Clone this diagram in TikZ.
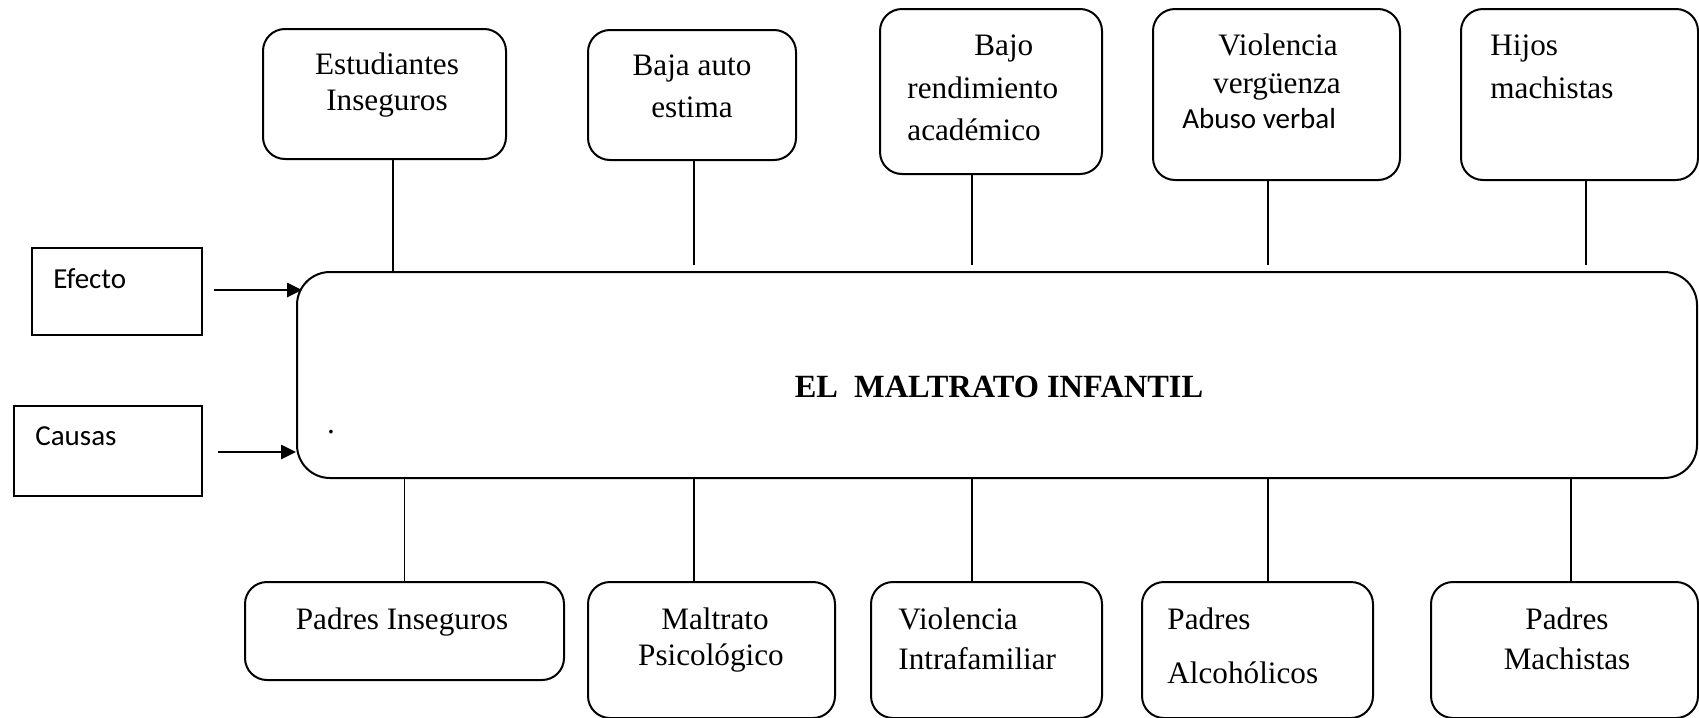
\documentclass[tikz,border=0pt]{standalone}
\usepackage{fontspec}
\setmainfont{Liberation Serif}
\newfontfamily\calib{Carlito}
\usetikzlibrary{fit,arrows.meta}
\begin{document}
\begin{tikzpicture}[x=0.5pt,y=-0.5pt,
  rbox/.style={draw, line width=1pt, inner sep=0pt, rounded corners=11pt},
  mainbox/.style={draw, line width=1pt, inner sep=0pt, rounded corners=16.5pt},
  sqbox/.style={draw, line width=1pt, inner sep=0pt},
  conn/.style={line width=0.9pt},
  arr/.style={line width=1.3pt, -{Triangle[length=7.5pt,width=7pt]}},
  txt/.style={inner sep=0pt, anchor=base, font=\fontsize{15.6pt}{18pt}\selectfont},
  txtl/.style={txt, anchor=base west},
  stxt/.style={inner sep=0pt, anchor=base west, font=\calib\fontsize{14.5pt}{17pt}\selectfont}]
\useasboundingbox (0,0) rectangle (1699,718);

% main box
\node[mainbox, fit={(297,272) (1697,478)}] (main) {};
\node[inner sep=0pt, font=\bfseries\fontsize{16.2pt}{18pt}\selectfont] (title) at (999,387) {EL\ \ MALTRATO INFANTIL};
\node[txt] (dot) at (331,433) {.};

% top boxes
\node[rbox, fit={(263,29) (506,159)}] (t1) {};
\node[rbox, fit={(588,30) (796,160)}] (t2) {};
\node[rbox, fit={(880,9) (1102,174)}] (t3) {};
\node[rbox, fit={(1153,9) (1400,180)}] (t4) {};
\node[rbox, fit={(1461,9) (1698,180)}] (t5) {};

\node[txt] (t1a) at (387,74) {Estudiantes};
\node[txt] (t1b) at (387,110) {Inseguros};
\node[txt] (t2a) at (692,75) {Baja auto};
\node[txt] (t2b) at (692,117) {estima};
\node[txtl] (t3a) at (974,55) {Bajo};
\node[txtl] (t3b) at (907,98) {rendimiento};
\node[txtl] (t3c) at (907,140) {académico};
\node[txt] (t4a) at (1278,55) {Violencia};
\node[txt] (t4b) at (1277,93) {vergüenza};
\node[stxt] (t4c) at (1182,128) {Abuso verbal};
\node[txtl] (t5a) at (1490,55) {Hijos};
\node[txtl] (t5b) at (1490,98) {machistas};

% bottom boxes
\node[rbox, fit={(245,582) (564,680)}] (b1) {};
\node[rbox, fit={(588,582) (835,718)}] (b2) {};
\node[rbox, fit={(871,582) (1102,718)}] (b3) {};
\node[rbox, fit={(1142,582) (1373,718)}] (b4) {};
\node[rbox, fit={(1431,582) (1698,718)}] (b5) {};

\node[txt] (b1a) at (402,629) {Padres Inseguros};
\node[txt] (b2a) at (715,629) {Maltrato};
\node[txt] (b2b) at (711,665) {Psicológico};
\node[txtl] (b3a) at (898,629) {Violencia};
\node[txtl] (b3b) at (898,669) {Intrafamiliar};
\node[txtl] (b4a) at (1167,629) {Padres};
\node[txtl] (b4b) at (1167,683) {Alcohólicos};
\node[txt] (b5a) at (1567,629) {Padres};
\node[txt] (b5b) at (1567,669) {Machistas};

% side boxes
\node[sqbox, fit={(32,248) (202,335)}] (ef) {};
\node[sqbox, fit={(14,406) (202,496)}] (ca) {};
\node[stxt] (efa) at (53,288) {Efecto};
\node[stxt] (caa) at (35,445) {Causas};

% connectors top
\draw[conn] ([xshift=4.25pt]t1.south) -- ([xshift=4.25pt]t1.south |- main.north);
\draw[conn] ([xshift=1pt]t2.south) -- ([xshift=1pt,yshift=3pt]t2.south |- main.north);
\draw[conn] ([xshift=-9.5pt]t3.south) -- ([xshift=-9.5pt,yshift=3pt]t3.south |- main.north);
\draw[conn] ([xshift=-4.25pt]t4.south) -- ([xshift=-4.25pt,yshift=3pt]t4.south |- main.north);
\draw[conn] ([xshift=3.25pt]t5.south) -- ([xshift=3.25pt,yshift=3pt]t5.south |- main.north);

% connectors bottom
\draw[conn] (b1.north |- main.south) -- (b1.north);
\draw[conn] ([xshift=-8.75pt]b2.north |- main.south) -- ([xshift=-8.75pt]b2.north);
\draw[conn] ([xshift=-7.25pt]b3.north |- main.south) -- ([xshift=-7.25pt]b3.north);
\draw[conn] ([xshift=5.25pt]b4.north |- main.south) -- ([xshift=5.25pt]b4.north);
\draw[conn] ([xshift=3.25pt]b5.north |- main.south) -- ([xshift=3.25pt]b5.north);

% arrows
\draw[arr] ([xshift=5.5pt,yshift=0.75pt]ef.east) -- ([xshift=3pt,yshift=0.75pt]ef.east -| main.west);
\draw[arr] ([xshift=7.5pt,yshift=-0.5pt]ca.east) -- ([yshift=-0.5pt]ca.east -| main.west);
\end{tikzpicture}
\end{document}
